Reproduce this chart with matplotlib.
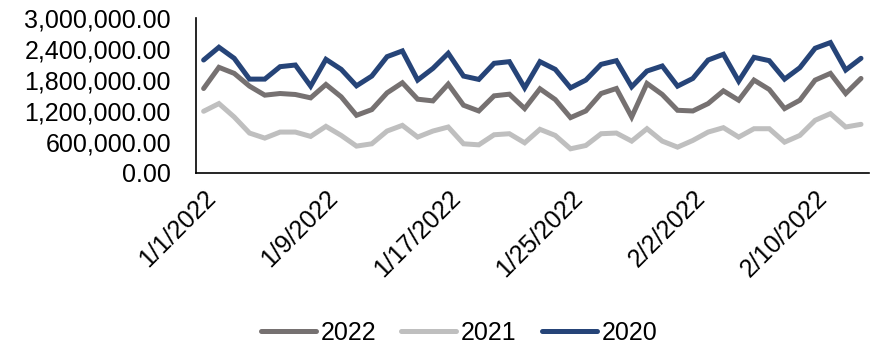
import matplotlib
matplotlib.use('Agg')
import matplotlib.pyplot as plt
import matplotlib.ticker as mticker
import numpy as np
import pandas as pd

plt.rcParams['font.family'] = ['Liberation Sans', 'DejaVu Sans']

# daily values, 1/1/2022 - 2/13/2022
dates = pd.date_range('2022-01-01', '2022-02-13', freq='D')

y2022 = [1636e3, 2046e3, 1929e3, 1682e3, 1507e3, 1539e3, 1520e3, 1455e3,
         1714e3, 1474e3, 1117e3, 1227e3, 1552e3, 1747e3, 1429e3, 1396e3,
         1721e3, 1312e3, 1201e3, 1494e3, 1526e3, 1247e3, 1630e3, 1422e3,
         1072e3, 1201e3, 1539e3, 1636e3, 1084e3, 1734e3, 1520e3, 1214e3,
         1201e3, 1344e3, 1591e3, 1409e3, 1799e3, 1617e3, 1247e3, 1409e3,
         1799e3, 1929e3, 1539e3, 1831e3]

y2021 = [1195e3, 1344e3, 1084e3, 773e3, 675e3, 792e3, 792e3, 708e3,
         903e3, 727e3, 520e3, 565e3, 812e3, 922e3, 695e3, 812e3,
         890e3, 565e3, 545e3, 740e3, 760e3, 584e3, 845e3, 727e3,
         468e3, 532e3, 760e3, 773e3, 617e3, 857e3, 617e3, 500e3,
         630e3, 792e3, 877e3, 695e3, 857e3, 857e3, 597e3, 727e3,
         1020e3, 1149e3, 890e3, 942e3]

y2020 = [2188e3, 2435e3, 2221e3, 1818e3, 1818e3, 2059e3, 2091e3, 1682e3,
         2201e3, 2007e3, 1688e3, 1877e3, 2253e3, 2364e3, 1799e3, 2026e3,
         2318e3, 1877e3, 1812e3, 2124e3, 2156e3, 1649e3, 2156e3, 2007e3,
         1649e3, 1799e3, 2104e3, 2175e3, 1669e3, 1974e3, 2072e3, 1682e3,
         1831e3, 2188e3, 2299e3, 1779e3, 2240e3, 2175e3, 1818e3, 2039e3,
         2416e3, 2526e3, 1994e3, 2221e3]

series = [('2022', y2022, '#767171'),
          ('2021', y2021, '#BFBFBF'),
          ('2020', y2020, '#264478')]

yticks = [0, 600000, 1200000, 1800000, 2400000, 3000000]
label_idx = [0, 8, 16, 24, 32, 40]
fs = 18

fig = plt.figure(figsize=(8.73, 3.48), dpi=100)
ax = fig.add_axes([0.2245, 0.503, 0.7705, 0.445])

x = np.arange(len(dates))
for name, vals, c in series:
    ax.plot(x, vals, color=c, lw=3.6, label=name, solid_joinstyle='miter',
            solid_capstyle='round')

ax.set_xlim(-0.5, len(dates) - 0.5)
ax.set_ylim(0, 3000000)
ax.set_yticks(yticks)
ax.yaxis.set_major_formatter(mticker.StrMethodFormatter('{x:,.2f}'))
ax.set_xticks(label_idx)
ax.set_xticklabels(['%d/%d/%d' % (dates[i].month, dates[i].day, dates[i].year)
                    for i in label_idx], rotation=45, ha='right',
                   rotation_mode='anchor')
ax.tick_params(axis='both', length=0, labelsize=fs, colors='black')
ax.tick_params(axis='y', pad=18)
ax.tick_params(axis='x', pad=9)

for s in ['top', 'right']:
    ax.spines[s].set_visible(False)
for s in ['left', 'bottom']:
    ax.spines[s].set_color('black')
    ax.spines[s].set_linewidth(1.2)

fig.legend(loc='center', bbox_to_anchor=(459 / 873, 1 - 333 / 348), ncol=3,
           frameon=False, fontsize=fs, handlelength=2.2, handletextpad=0.2,
           columnspacing=1.0, borderaxespad=0)

fig.savefig('out.png', dpi=100)
